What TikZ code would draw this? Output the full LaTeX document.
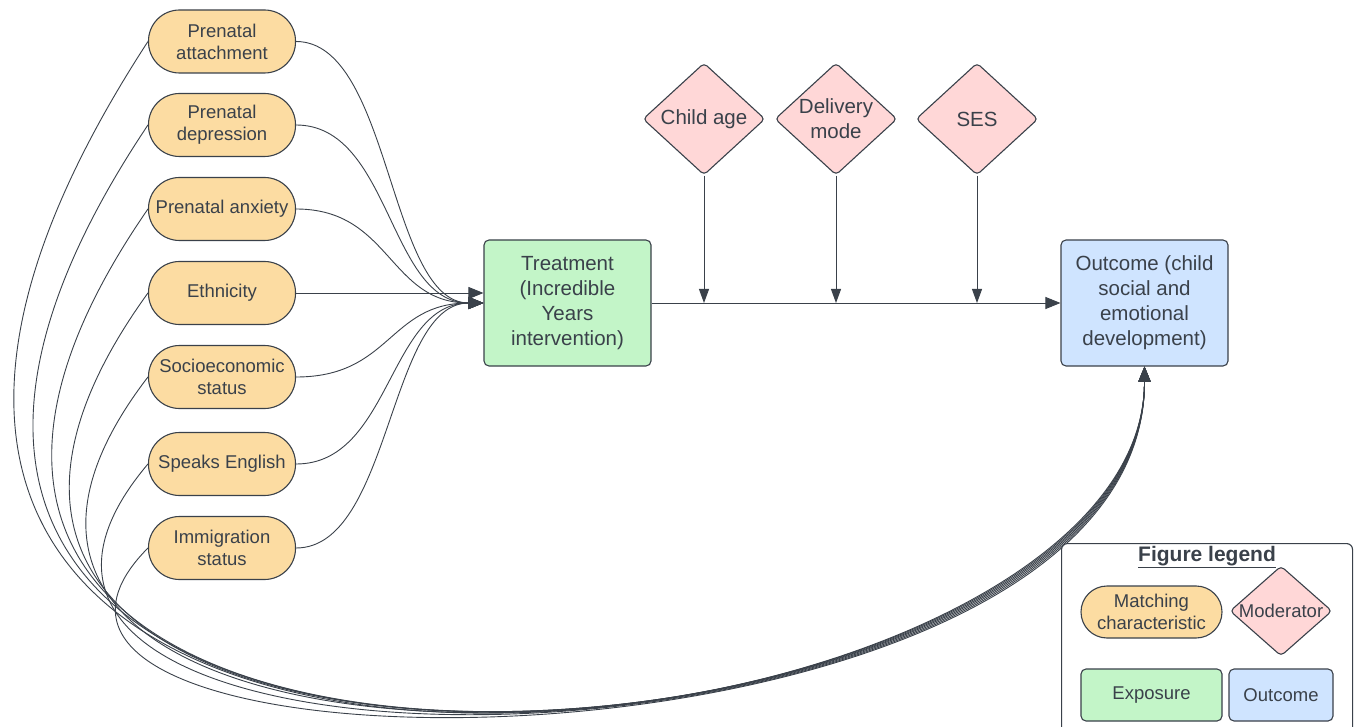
\documentclass[tikz,border=0pt]{standalone}
\usepackage{fontspec}
\setmainfont{Liberation Sans}
\usetikzlibrary{shapes.geometric,arrows.meta,calc}
\definecolor{ink}{HTML}{3A414A}
\definecolor{matchc}{HTML}{FCDCA2}
\definecolor{expc}{HTML}{C3F5C8}
\definecolor{outc}{HTML}{CFE4FF}
\definecolor{modc}{HTML}{FFD7D7}
\begin{document}
\begin{tikzpicture}[x=1pt,y=-1pt,
  matchbox/.style={draw=ink, line width=1.1pt, fill=matchc, rectangle, rounded corners=31pt,
    minimum width=147pt, minimum height=63pt, inner sep=0pt, align=center,
    font=\fontsize{18.5}{22}\selectfont, text=ink},
  bigbox/.style={draw=ink, line width=1.1pt, rectangle, rounded corners=5pt,
    minimum width=167pt, minimum height=126pt, inner sep=0pt, align=center,
    font=\fontsize{20.5}{25}\selectfont, text=ink},
  moddia/.style={draw=ink, line width=1.1pt, fill=modc, shape=diamond, inner sep=0pt,
    minimum width=122pt, minimum height=112pt, rounded corners=4pt},
  modtext/.style={align=center, font=\fontsize{20.5}{25}\selectfont, text=ink, inner sep=0pt},
  conn/.style={draw=ink, line width=0.9pt, -{Triangle[length=15pt,width=12pt]}},
  modconn/.style={draw=ink, line width=0.9pt, -{Triangle[length=14pt,width=10pt]}},
  legtext/.style={font=\fontsize{18.5}{22}\selectfont, text=ink, align=center}
]
\useasboundingbox (0,0) rectangle (1357,727);

% matching characteristics
\node[matchbox] (n1) at (222,41.5) {Prenatal\\attachment};
\node[matchbox] (n2) at (222,125) {Prenatal\\depression};
\node[matchbox] (n3) at (222,209) {Prenatal anxiety};
\node[matchbox] (n4) at (222,293) {Ethnicity};
\node[matchbox] (n5) at (222,377) {Socioeconomic\\status};
\node[matchbox] (n6) at (222,464) {Speaks English};
\node[matchbox] (n7) at (222,548) {Immigration\\status};

% exposure and outcome
\node[bigbox, fill=expc] (treat) at (567.5,303) {Treatment\\(Incredible\\Years\\intervention)};
\node[bigbox, fill=outc] (out) at (1144.5,303) {Outcome (child\\social and\\emotional\\development)};

% moderators
\node[moddia] (d1) at (704,119) {};
\node[moddia] (d2) at (836,119) {};
\node[moddia] (d3) at (977,119) {};
\node[modtext] (t1) at (d1) {Child age};
\node[modtext] (t2) at (d2) {Delivery\\mode};
\node[modtext] (t3) at (d3) {SES};

% main path
\draw[conn] (treat.east) -- (out.west);
\coordinate (m1) at (d1.south |- treat.east);
\coordinate (m2) at (d2.south |- treat.east);
\coordinate (m3) at (d3.south |- treat.east);
\draw[modconn] (d1.south) -- (m1);
\draw[modconn] (d2.south) -- (m2);
\draw[modconn] (d3.south) -- (m3);

% matching characteristics -> treatment
\foreach \n in {n1,n2,n3,n5,n6,n7}{
  \draw[conn] (\n.east) .. controls ($(\n.east)+(95,0)$) and ($(treat.west)+(-95,0)$) .. (treat.west);
}
\draw[conn] (n4.east) -- (n4.east -| treat.west);

% matching characteristics -> outcome
\draw[conn] (n1.west) .. controls (-450,960) and (1145,795) .. (out.south);
\draw[conn] (n2.west) .. controls (-392,932) and (1145,795) .. (out.south);
\draw[conn] (n3.west) .. controls (-333,905) and (1145,795) .. (out.south);
\draw[conn] (n4.west) .. controls (-275,878) and (1145,795) .. (out.south);
\draw[conn] (n5.west) .. controls (-217,852) and (1145,795) .. (out.south);
\draw[conn] (n6.west) .. controls (-158,825) and (1145,795) .. (out.south);
\draw[conn] (n7.west) .. controls (-100,798) and (1145,795) .. (out.south);

% legend
\node[draw=ink, line width=1.1pt, fill=white, rounded corners=6pt, minimum width=291pt,
  minimum height=200pt, inner sep=0pt, anchor=north west] (leg) at (1061,543) {};
\node[font=\fontsize{21}{25}\selectfont\bfseries, text=ink] (legtitle) at (1207,557) {\underline{Figure legend}};
\node[matchbox, minimum width=141pt, minimum height=52pt, rounded corners=26pt] (lm) at (1151.5,612) {Matching\\characteristic};
\node[moddia, minimum width=102pt, minimum height=90pt] (ld) at (1281,611) {};
\node[legtext] (ldt) at (ld) {Moderator};
\node[bigbox, fill=expc, minimum width=141pt, minimum height=52pt,
  font=\fontsize{18.5}{22}\selectfont] (le) at (1151.5,695) {Exposure};
\node[bigbox, fill=outc, minimum width=104pt, minimum height=52pt,
  font=\fontsize{18.5}{22}\selectfont] (lo) at (1281,695) {Outcome};
\end{tikzpicture}
\end{document}
